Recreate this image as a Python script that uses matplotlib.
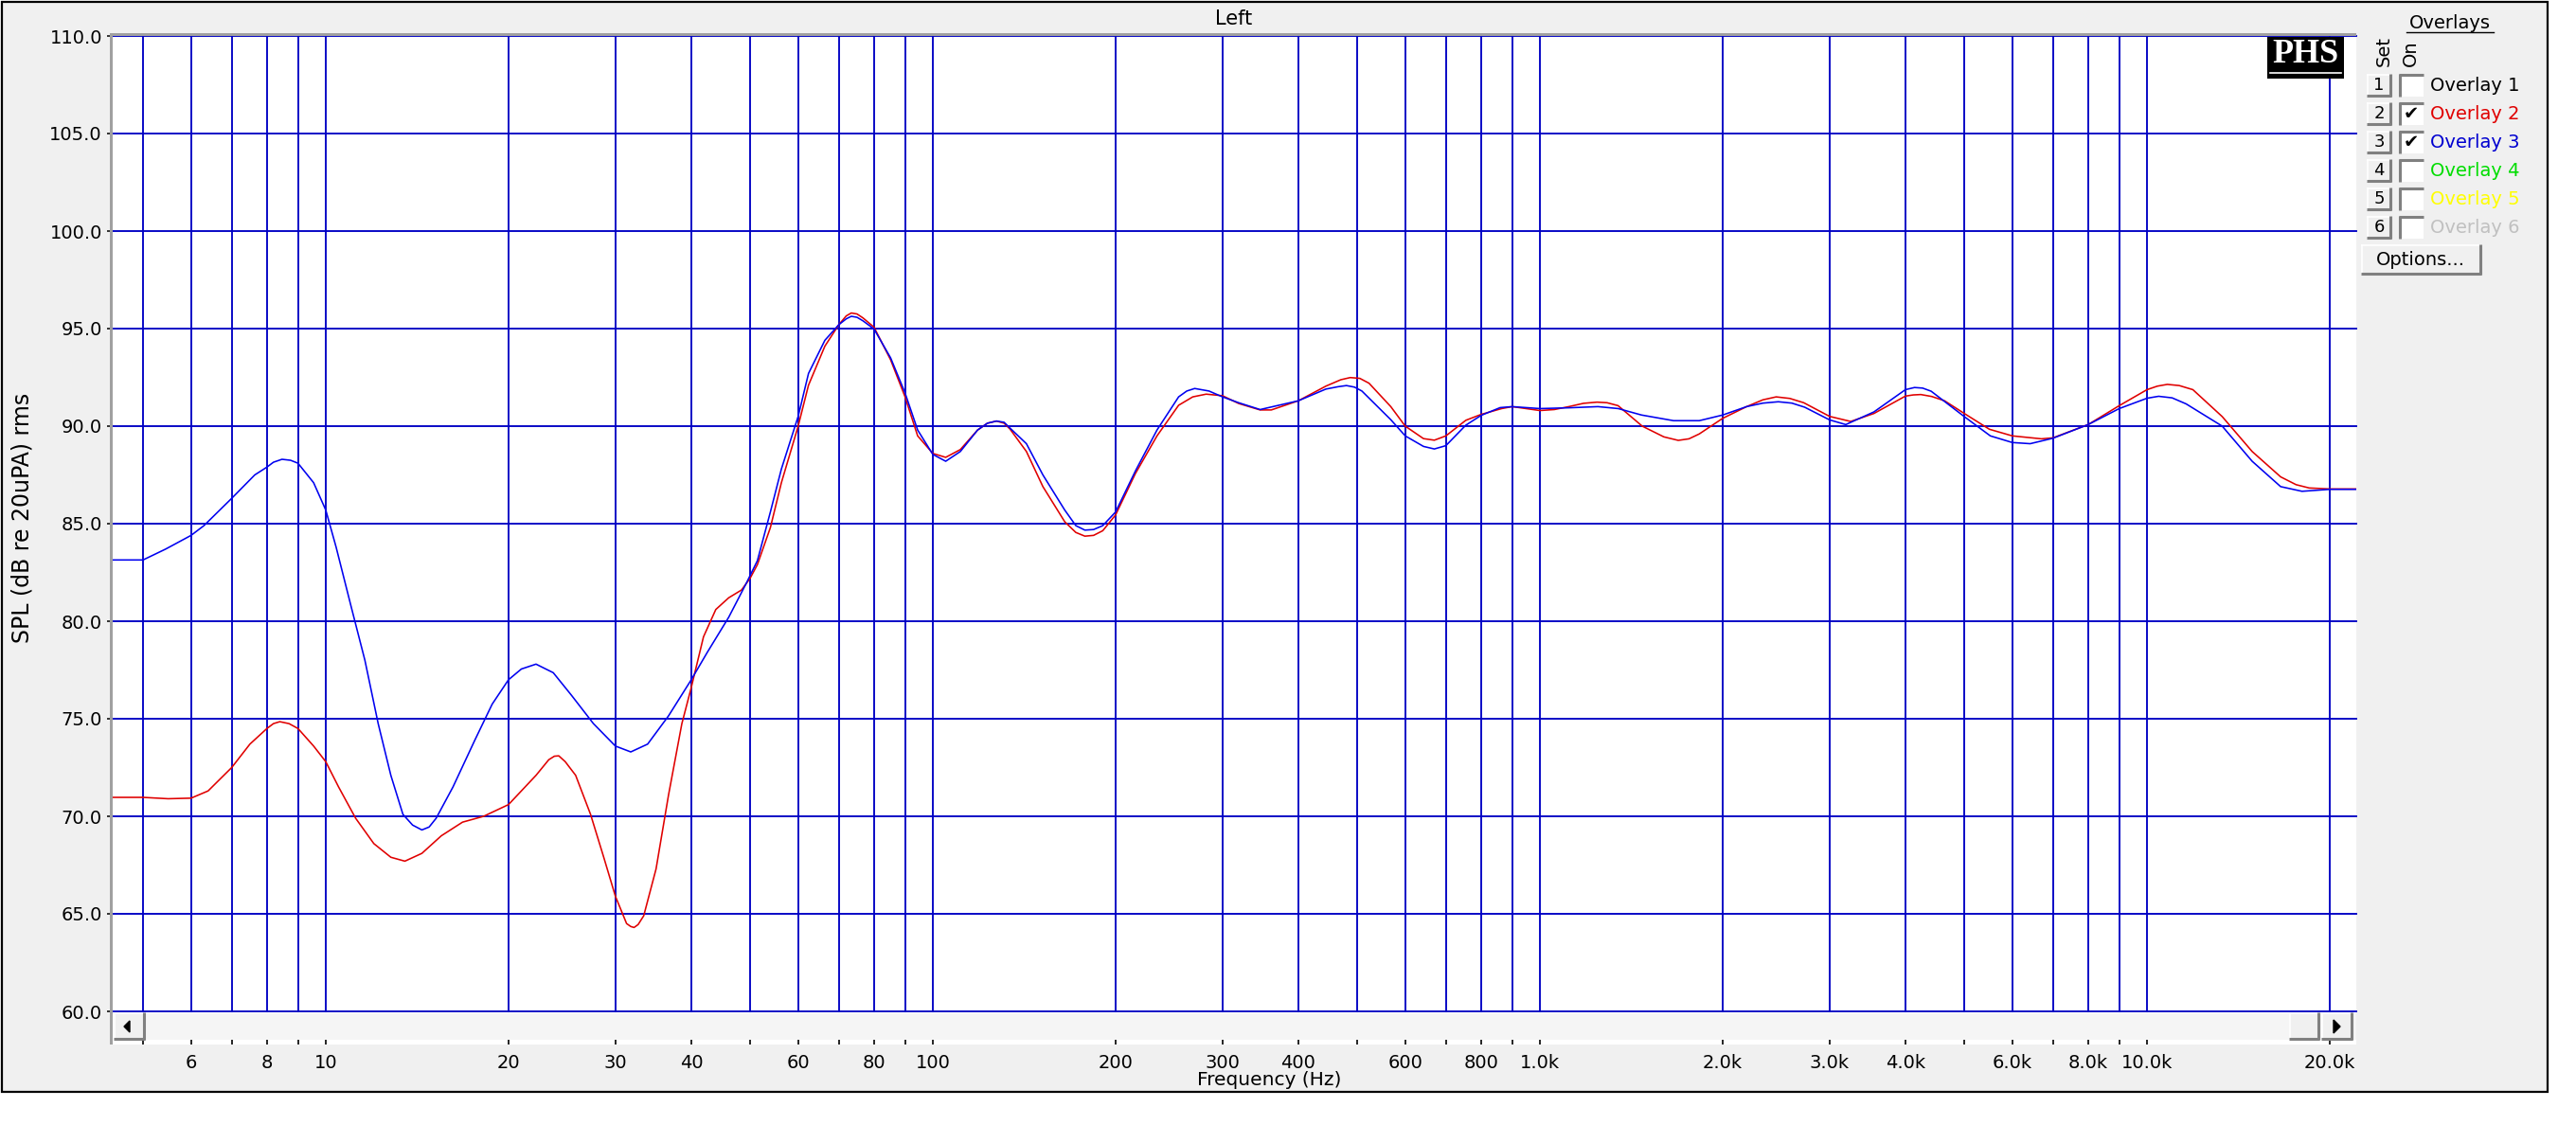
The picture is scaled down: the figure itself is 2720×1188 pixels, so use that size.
import matplotlib
matplotlib.use("Agg")
import matplotlib.pyplot as plt
from matplotlib.patches import Rectangle, Polygon
from matplotlib.ticker import NullLocator, FixedLocator, FixedFormatter

# ---------------- data ----------------
red_freq = [4.44, 5, 5.5, 6, 6.4, 7, 7.5, 8, 8.2, 8.4, 8.7, 9, 9.55, 10, 10.5, 11.2, 12, 12.8,
            13.5, 14.4, 15.5, 16.8, 18.2, 20, 22.2, 23.3, 23.8, 24.2, 24.8, 25.8, 27.3, 28.7, 30,
            31.3, 31.8, 32.2, 32.7, 33.4, 35, 36.7, 38.6, 40, 41.9, 43.9, 46.1, 48.4, 50, 51.4, 54,
            56.3, 60, 62.4, 66.4, 70, 72, 73.4, 75, 76.7, 80, 85.2, 90, 94.4, 100, 105, 111, 118.5,
            123, 127.3, 131, 134, 142.6, 151.8, 164.9, 172, 178, 184, 190.5, 200, 215.6, 234, 254,
            268, 282, 300, 319, 346, 361, 400, 444, 470, 487, 505, 523, 568, 600, 643, 670, 700,
            755, 800, 865, 900, 1000, 1056, 1116, 1180, 1242, 1290, 1345, 1474, 1600, 1690, 1760,
            1830, 2000, 2190, 2330, 2450, 2580, 2720, 3000, 3250, 3550, 4000, 4120, 4240, 4420,
            4640, 5000, 5500, 6000, 6700, 7000, 8000, 9000, 10000, 10400, 10800, 11300, 11900,
            13300, 14900, 16600, 17600, 18500, 20000, 22100]
red_db = [70.97, 70.97, 70.9, 70.93, 71.3, 72.5, 73.7, 74.5, 74.75, 74.85, 74.75, 74.5, 73.6, 72.8,
          71.5, 69.9, 68.6, 67.9, 67.7, 68.1, 69.0, 69.7, 70.0, 70.6, 72.1, 72.9, 73.08, 73.1, 72.8,
          72.1, 70.1, 67.9, 65.9, 64.5, 64.35, 64.3, 64.45, 64.9, 67.3, 71.1, 74.75, 76.6, 79.2,
          80.6, 81.2, 81.6, 82.2, 82.9, 84.8, 87.1, 90.0, 92.1, 94.1, 95.2, 95.65, 95.8, 95.75,
          95.55, 95.07, 93.4, 91.5, 89.5, 88.6, 88.4, 88.8, 89.8, 90.15, 90.26, 90.15, 89.85, 88.7,
          86.9, 85.1, 84.55, 84.36, 84.4, 84.64, 85.45, 87.57, 89.5, 91.07, 91.5, 91.64, 91.56,
          91.16, 90.83, 90.83, 91.3, 92.05, 92.38, 92.49, 92.45, 92.2, 91.0, 90.0, 89.36, 89.28,
          89.5, 90.3, 90.6, 90.9, 91.0, 90.8, 90.85, 91.0, 91.17, 91.23, 91.2, 91.05, 90.0, 89.45,
          89.27, 89.35, 89.6, 90.4, 91.0, 91.35, 91.5, 91.42, 91.2, 90.5, 90.24, 90.65, 91.54,
          91.6, 91.62, 91.52, 91.3, 90.65, 89.84, 89.5, 89.35, 89.4, 90.08, 91.05, 91.87, 92.05,
          92.14, 92.08, 91.87, 90.49, 88.7, 87.4, 87.0, 86.83, 86.78, 86.78]

blue_freq = [4.44, 5, 5.45, 6, 6.3, 7, 7.64, 8, 8.2, 8.47, 8.75, 9, 9.55, 10, 10.4, 11, 11.6, 12.2,
             12.8, 13.4, 13.9, 14.4, 14.8, 15.2, 16.2, 17.6, 18.8, 20, 21, 22.2, 23.7, 25.4, 27.6,
             30, 31.8, 33.9, 36.7, 40, 42.5, 46.1, 49.2, 51.4, 54, 56.3, 60, 62.4, 66.4, 70, 72,
             73.4, 75, 76.7, 80, 85.2, 90, 94.4, 100, 105, 111, 118.5, 123, 127.3, 131, 134, 142.6,
             151.8, 164.9, 172, 178, 184, 190.5, 200, 215.6, 234, 254, 262, 270, 285, 300, 319,
             346, 400, 444, 465, 480, 495, 509, 568, 600, 643, 670, 700, 755, 800, 860, 900, 1000,
             1116, 1246, 1346, 1470, 1660, 1830, 2000, 2190, 2330, 2470, 2600, 2730, 3000, 3190,
             3550, 4000, 4140, 4270, 4410, 5000, 5520, 6000, 6420, 7000, 8000, 9000, 10000, 10450,
             11000, 11600, 13300, 14900, 16600, 18000, 20000, 22100]
blue_db = [83.14, 83.14, 83.7, 84.4, 84.9, 86.3, 87.5, 87.9, 88.15, 88.3, 88.25, 88.1, 87.1, 85.7,
           83.8, 80.8, 78.0, 74.75, 72.1, 70.1, 69.55, 69.3, 69.45, 69.9, 71.5, 73.9, 75.75, 77.0,
           77.55, 77.8, 77.36, 76.2, 74.75, 73.6, 73.3, 73.7, 75.15, 77.0, 78.4, 80.2, 81.9, 83.1,
           85.6, 87.8, 90.5, 92.7, 94.4, 95.2, 95.5, 95.63, 95.58, 95.4, 94.98, 93.5, 91.7, 89.8,
           88.55, 88.2, 88.7, 89.8, 90.15, 90.26, 90.2, 89.9, 89.1, 87.5, 85.7, 84.9, 84.67, 84.7,
           84.9, 85.6, 87.7, 89.8, 91.5, 91.8, 91.93, 91.8, 91.5, 91.2, 90.85, 91.3, 91.9, 92.02,
           92.08, 92.0, 91.8, 90.33, 89.5, 88.96, 88.83, 89.0, 90.05, 90.55, 90.95, 91.0, 90.9,
           90.94, 91.0, 90.9, 90.57, 90.28, 90.28, 90.57, 91.0, 91.18, 91.25, 91.18, 90.97, 90.32,
           90.08, 90.73, 91.87, 91.98, 91.95, 91.79, 90.49, 89.5, 89.16, 89.1, 89.38, 90.08, 90.9,
           91.43, 91.53, 91.45, 91.14, 90.0, 88.2, 86.9, 86.66, 86.76, 86.76]

grid_freqs = [5, 6, 7, 8, 9, 10, 20, 30, 40, 50, 60, 70, 80, 90, 100, 200, 300, 400, 500, 600,
              700, 800, 900, 1000, 2000, 3000, 4000, 5000, 6000, 7000, 8000, 9000, 10000, 20000]
label_freqs = [6, 8, 10, 20, 30, 40, 60, 80, 100, 200, 300, 400, 600, 800, 1000, 2000, 3000,
               4000, 6000, 8000, 10000, 20000]
label_texts = ['6', '8', '10', '20', '30', '40', '60', '80', '100', '200', '300', '400', '600',
               '800', '1.0k', '2.0k', '3.0k', '4.0k', '6.0k', '8.0k', '10.0k', '20.0k']
y_ticks = [60, 65, 70, 75, 80, 85, 90, 95, 100, 105, 110]

overlay_names = ['Overlay 1', 'Overlay 2', 'Overlay 3', 'Overlay 4', 'Overlay 5', 'Overlay 6']
overlay_colors = ['#000000', '#e00000', '#0000d0', '#00dd00', '#ffff00', '#c0c0c0']
overlay_on = [False, True, True, False, False, False]

# ---------------- layout ----------------
W, H = 2720, 1188
fig = plt.figure(figsize=(W / 100, H / 100), dpi=100)
fig.patch.set_facecolor('white')

def fax(l, t, r, b, **kw):
    return fig.add_axes([l / W, 1 - b / H, (r - l) / W, (b - t) / H], **kw)

GRID = '#0000c4'
PANEL = '#f0f0f0'

# background window
bg = fig.add_axes([0, 0, 1, 1], zorder=0)
bg.set_xlim(0, W); bg.set_ylim(H, 0); bg.axis('off')
bg.add_patch(Rectangle((2, 2), 2688, 1151, facecolor=PANEL, edgecolor='black', lw=1.6))
bg.add_patch(Rectangle((119, 38), 2369, 1065, facecolor='white', edgecolor='none'))

PL, PR, PT, PB = 119, 2488, 38, 1068
ax = fax(PL, PT, PR, PB, zorder=1)
ax.set_xscale('log')
xmin = 5 * 10 ** (-(151 - PL) / 641.0)
xmax = 20000 * 10 ** ((PR - 2460) / 641.0)
ax.set_xlim(xmin, xmax)
ax.set_ylim(60, 110)
ax.set_facecolor('white')
for s in ax.spines.values():
    s.set_visible(False)
ax.xaxis.set_major_locator(FixedLocator(grid_freqs))
ax.xaxis.set_minor_locator(NullLocator())
ax.tick_params(axis='x', length=0, labelbottom=False)
ax.set_yticks(y_ticks)
ax.set_yticklabels([f'{v:.1f}' for v in y_ticks])
ax.tick_params(axis='y', direction='out', length=4.5, width=1.1, color='black',
               labelsize=14, pad=3.5)
ax.grid(True, color=GRID, lw=1.35)
ax.set_axisbelow(True)
for gl in ax.get_xgridlines() + ax.get_ygridlines():
    gl.set_clip_on(False)

ax.plot(red_freq, red_db, color='#e00000', lw=1.15, zorder=3)
ax.plot(blue_freq, blue_db, color='#0000f0', lw=1.15, zorder=4)

# tick strip below scrollbar
ax2 = fax(PL, PB, PR, 1103, zorder=1)
ax2.set_xscale('log')
ax2.set_xlim(xmin, xmax)
ax2.set_ylim(0, 1)
ax2.set_yticks([])
ax2.patch.set_alpha(0)
for s in ax2.spines.values():
    s.set_visible(False)
lab_map = dict(zip(label_freqs, label_texts))
ax2.xaxis.set_major_locator(FixedLocator(grid_freqs))
ax2.xaxis.set_major_formatter(FixedFormatter([lab_map.get(f, '') for f in grid_freqs]))
ax2.xaxis.set_minor_locator(NullLocator())
ax2.tick_params(axis='x', direction='in', length=4, width=1.2, color='black',
                labelsize=14, pad=7)

# overlay for window chrome
ov = fig.add_axes([0, 0, 1, 1], zorder=5)
ov.set_xlim(0, W); ov.set_ylim(H, 0); ov.axis('off')
ov.patch.set_alpha(0)

# gray 3D frame on left and top of plot
ov.add_patch(Rectangle((116, 35), 3, 1068, facecolor='#a0a0a0', edgecolor='none'))
ov.add_patch(Rectangle((116, 35), 2372, 3, facecolor='#a0a0a0', edgecolor='none'))

# scrollbar
ov.add_patch(Rectangle((120, 1069.5), 2368, 28.5, facecolor='#f5f5f5', edgecolor='none'))

def button(x0, y0, w, h):
    ov.add_patch(Rectangle((x0, y0), w, h, facecolor=PANEL, edgecolor='none'))
    ov.plot([x0, x0 + w], [y0 + 0.5, y0 + 0.5], color='white', lw=1.2, solid_capstyle='butt')
    ov.plot([x0 + 0.5, x0 + 0.5], [y0, y0 + h], color='white', lw=1.2, solid_capstyle='butt')
    ov.plot([x0, x0 + w], [y0 + h - 1, y0 + h - 1], color='#808080', lw=2.2, solid_capstyle='butt')
    ov.plot([x0 + w - 1, x0 + w - 1], [y0, y0 + h], color='#808080', lw=2.2, solid_capstyle='butt')

button(120, 1069, 33, 29)
ov.add_patch(Polygon([[131, 1084], [137, 1078], [137, 1090]], closed=True, color='black'))
button(2417, 1069, 32, 29)
button(2451, 1069, 33, 29)
ov.add_patch(Polygon([[2471, 1084], [2464, 1077], [2464, 1091]], closed=True, color='black'))

# titles and labels
ov.text(1303, 20, 'Left', ha='center', va='center', fontsize=15, color='black')
ov.text(24, 547, 'SPL (dB re 20uPA) rms', rotation=90, ha='center', va='center',
        fontsize=17, color='black')
ov.text(1340, 1141, 'Frequency (Hz)', ha='center', va='center', fontsize=14.5, color='black')

# PHS logo
ov.add_patch(Rectangle((2394, 39), 81, 44, facecolor='black', edgecolor='none'))
ov.text(2434.5, 58, 'PHS', ha='center', va='center', color='white', fontsize=26,
        fontweight='bold', family=['Liberation Serif', 'DejaVu Serif'])
ov.plot([2397, 2472], [77, 77], color='white', lw=1.2)

# Overlays panel
ov.text(2587, 24, 'Overlays', ha='center', va='center', fontsize=14, color='black')
ov.plot([2541, 2633], [34, 34], color='black', lw=1.0)
ov.text(2517, 70, 'Set', rotation=90, ha='center', va='bottom', fontsize=14, color='black')
ov.text(2545, 70, 'On', rotation=90, ha='center', va='bottom', fontsize=14, color='black')

for i, (name, col, on) in enumerate(zip(overlay_names, overlay_colors, overlay_on)):
    yc = 90 + 30 * i
    button(2499, yc - 12, 26, 24)
    ov.text(2512, yc, str(i + 1), ha='center', va='center', fontsize=13, color='black')
    ov.add_patch(Rectangle((2533, yc - 12), 26, 24, facecolor='white', edgecolor='none'))
    ov.plot([2533, 2559], [yc - 11, yc - 11], color='#808080', lw=2.2, solid_capstyle='butt')
    ov.plot([2534, 2534], [yc - 12, yc + 12], color='#808080', lw=2.2, solid_capstyle='butt')
    if on:
        ov.text(2546, yc + 1, '\u2714', ha='center', va='center', fontsize=14, color='black',
                family=['DejaVu Sans'])
    ov.text(2566, yc, name, ha='left', va='center', fontsize=14, color=col)

button(2493, 258, 127, 32)
ov.text(2556, 274, 'Options...', ha='center', va='center', fontsize=14, color='black')

fig.savefig('out.png', dpi=100, facecolor='white')
